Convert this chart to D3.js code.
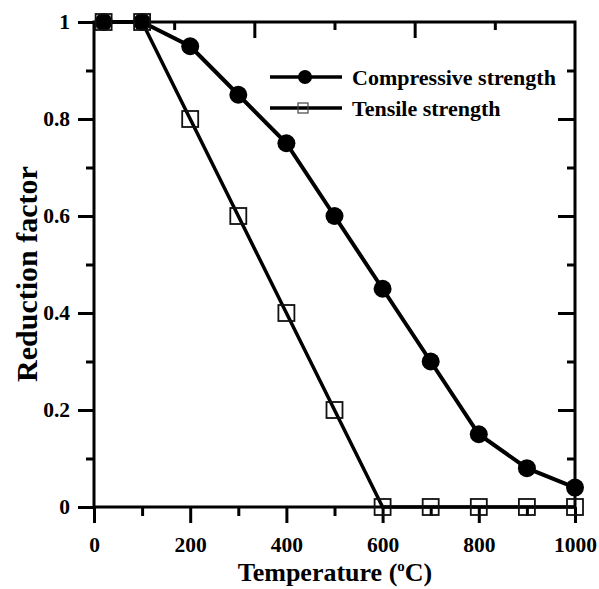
<!DOCTYPE html>
<html>
<head>
<meta charset="utf-8">
<script src="https://cdn.jsdelivr.net/npm/d3@7"></script>
<style>
  html, body { margin: 0; padding: 0; background: #fff; }
  svg { display: block; }
  text { font-family: "Liberation Serif", "Times New Roman", serif; font-weight: bold; fill: #000; }
</style>
</head>
<body>
<svg id="chart" width="599" height="589"></svg>
<script>
// Temperature (°C) and reduction factors
const temperatures = [20, 100, 200, 300, 400, 500, 600, 700, 800, 900, 1000];
const compressive  = [1, 1, 0.95, 0.85, 0.75, 0.6, 0.45, 0.3, 0.15, 0.08, 0.04];
const tensile      = [1, 1, 0.8, 0.6, 0.4, 0.2, 0, 0, 0, 0, 0];

const xTicks = [0, 200, 400, 600, 800, 1000];
const xMinorTicks = [100, 300, 500, 700, 900];
const yTicks = [0, 0.2, 0.4, 0.6, 0.8, 1];
const yMinorTicks = [0.1, 0.3, 0.5, 0.7, 0.9];
const topTicks = [1000/6, 2000/6, 3000/6, 4000/6, 5000/6];
const rightTicks = [0.1, 0.2, 0.3, 0.4, 0.5, 0.6, 0.7, 0.8, 0.9];

const seriesNames = ["Compressive strength", "Tensile strength"];

const plotLeft = 94, plotRight = 575, plotTop = 22, plotBottom = 507;
const svg = d3.select("#chart");

const x = d3.scaleLinear().domain([0, 1000]).range([plotLeft, plotRight]);
const y = d3.scaleLinear().domain([0, 1]).range([plotBottom, plotTop]);

const fmtY = d => d === 0 ? "0" : d === 1 ? "1" : d3.format(".1f")(d);

// Bottom axis: labelled major ticks + minor ticks, pointing outward
svg.append("g").attr("transform", `translate(0,${plotBottom})`)
  .call(d3.axisBottom(x).tickValues(xTicks).tickSize(16).tickPadding(14).tickFormat(d3.format("d")));
svg.append("g").attr("transform", `translate(0,${plotBottom})`)
  .call(d3.axisBottom(x).tickValues(xMinorTicks).tickSize(9).tickFormat(""));

// Left axis
svg.append("g").attr("transform", `translate(${plotLeft},0)`)
  .call(d3.axisLeft(y).tickValues(yTicks).tickSize(16).tickPadding(8).tickFormat(fmtY));
svg.append("g").attr("transform", `translate(${plotLeft},0)`)
  .call(d3.axisLeft(y).tickValues(yMinorTicks).tickSize(8).tickFormat(""));

// Top axis: inward ticks, six divisions
svg.append("g").attr("transform", `translate(0,${plotTop})`)
  .call(d3.axisTop(x).tickValues(topTicks).tickSize(-8).tickFormat(""))
  .call(g => g.selectAll(".tick line").attr("y2", (d, i) => i % 2 === 1 ? 16 : 8));

// Right axis: inward ticks every 0.1
svg.append("g").attr("transform", `translate(${plotRight},0)`)
  .call(d3.axisRight(y).tickValues(rightTicks).tickSize(-8).tickFormat(""))
  .call(g => g.selectAll(".tick line").attr("x2", (d, i) => i % 2 === 1 ? -17 : -8));

svg.selectAll(".domain").remove();
svg.selectAll(".tick line").attr("stroke", "#000").attr("stroke-width", 3);
svg.selectAll(".tick text").attr("font-size", 21.5)
  .attr("font-family", "Liberation Serif, Times New Roman, serif").attr("font-weight", "bold");

// Frame
svg.append("rect").attr("x", plotLeft).attr("y", plotTop)
  .attr("width", plotRight - plotLeft).attr("height", plotBottom - plotTop)
  .attr("fill", "none").attr("stroke", "#000").attr("stroke-width", 3);

const line = d3.line().x(d => x(d[0])).y(d => y(d[1]));
const compPts = temperatures.map((t, i) => [t, compressive[i]]);
const tensPts = temperatures.map((t, i) => [t, tensile[i]]);

svg.append("path").datum(tensPts).attr("d", line)
  .attr("fill", "none").attr("stroke", "#000").attr("stroke-width", 3.5);
svg.append("path").datum(compPts).attr("d", line)
  .attr("fill", "none").attr("stroke", "#000").attr("stroke-width", 4);

svg.append("g").selectAll("circle").data(compPts).join("circle")
  .attr("cx", d => x(d[0])).attr("cy", d => y(d[1])).attr("r", 9).attr("fill", "#000");

const sq = 16;
svg.append("g").selectAll("rect").data(tensPts).join("rect")
  .attr("x", d => x(d[0]) - sq / 2).attr("y", d => y(d[1]) - sq / 2)
  .attr("width", sq).attr("height", sq)
  .attr("fill", "none").attr("stroke", "#111").attr("stroke-width", 1.8);

// Legend
const legend = svg.append("g");
const legRows = [{ y: 77, name: seriesNames[0], mark: "circle" }, { y: 108, name: seriesNames[1], mark: "square" }];
legRows.forEach(r => {
  legend.append("line").attr("x1", 270).attr("x2", 342).attr("y1", r.y).attr("y2", r.y)
    .attr("stroke", "#000").attr("stroke-width", 3.5);
  if (r.mark === "circle") {
    legend.append("circle").attr("cx", 305).attr("cy", r.y).attr("r", 7).attr("fill", "#000");
  } else {
    legend.append("rect").attr("x", 298).attr("y", r.y - 5).attr("width", 10).attr("height", 10)
      .attr("fill", "none").attr("stroke", "#444").attr("stroke-width", 1.2);
  }
  legend.append("text").attr("x", 352).attr("y", r.y + 8).attr("font-size", 22).text(r.name);
});

// Axis titles
const xt = svg.append("text").attr("x", (236 + 434) / 2).attr("y", 581)
  .attr("text-anchor", "middle").attr("font-size", 26);
xt.append("tspan").text("Temperature (");
xt.append("tspan").attr("font-size", 15).attr("dy", -10).text("o");
xt.append("tspan").attr("dy", 10).text("C)");

svg.append("text").attr("transform", "translate(37,274) rotate(-90)")
  .attr("text-anchor", "middle").attr("font-size", 30).text("Reduction factor");
</script>
</body>
</html>
